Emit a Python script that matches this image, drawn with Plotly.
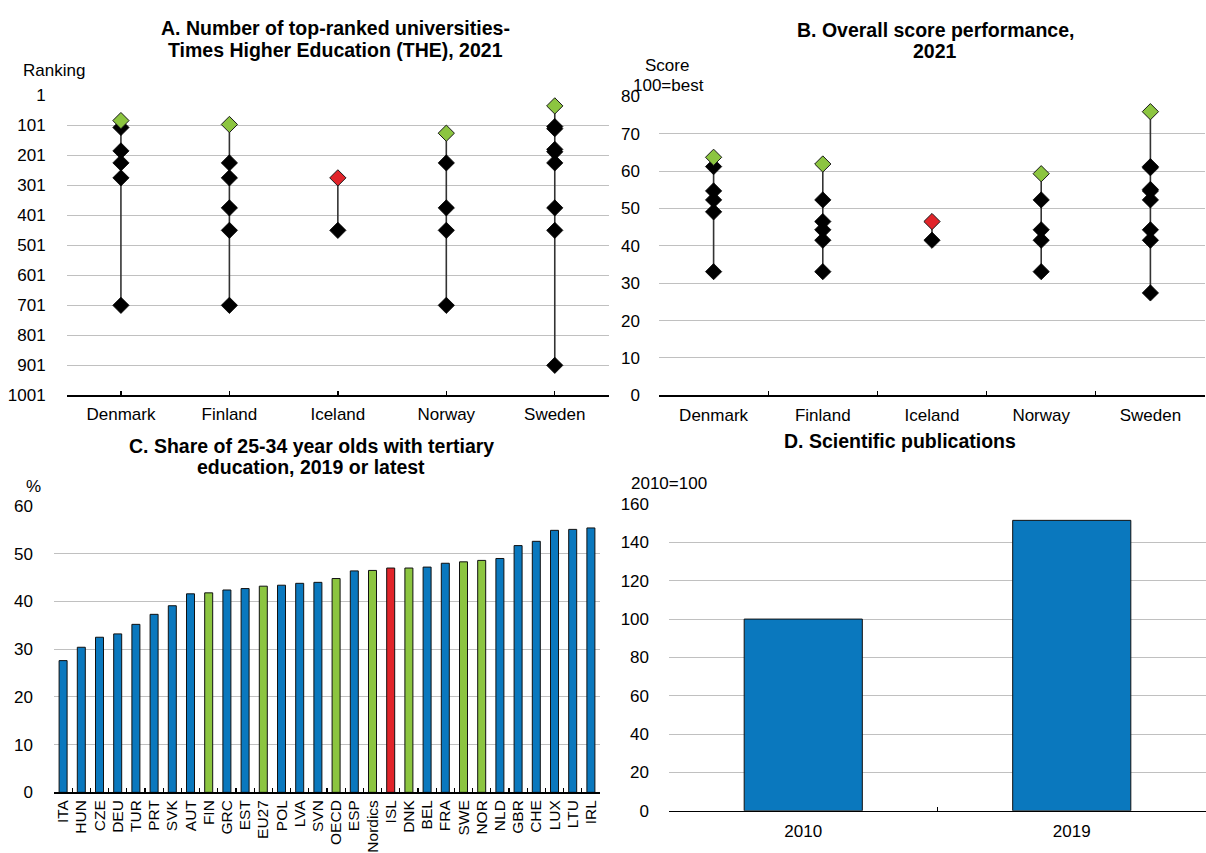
import plotly.graph_objects as go

# ---------------- data ----------------
countries = ["Denmark", "Finland", "Iceland", "Norway", "Sweden"]

# Panel A: THE 2021 rankings (best-ranked university per country, then the others)
rank_best = [85, 98, 276, 127, 36]
rank_denmark = [108, 186, 226, 276, 701]
rank_finland = [226, 276, 376, 451, 701]
rank_iceland = [451]
rank_norway = [226, 376, 451, 701]
rank_sweden = [105, 112, 181, 189, 226, 376, 451, 901]
rank_ticks = [1, 101, 201, 301, 401, 501, 601, 701, 801, 901, 1001]

# Panel B: overall score (100 = best)
score_best = [63.7, 61.9, 46.5, 59.3, 75.9]
score_denmark = [61.2, 54.7, 52.3, 49.1, 33.1]
score_finland = [52.3, 46.5, 44.3, 41.5, 33.1]
score_iceland = [41.5]
score_norway = [52.3, 44.3, 41.5, 33.1]
score_sweden = [61.2, 60.9, 55.1, 54.7, 52.3, 44.3, 41.5, 27.4]

# Panel C: share of 25-34 year olds with tertiary education
c_labels = ["ITA", "HUN", "CZE", "DEU", "TUR", "PRT", "SVK", "AUT", "FIN", "GRC",
            "EST", "EU27", "POL", "LVA", "SVN", "OECD", "ESP", "Nordics", "ISL", "DNK",
            "BEL", "FRA", "SWE", "NOR", "NLD", "GBR", "CHE", "LUX", "LTU", "IRL"]
c_values = [27.6, 30.4, 32.5, 33.2, 35.2, 37.3, 39.1, 41.6, 41.8, 42.4,
            42.7, 43.2, 43.4, 43.8, 44.0, 44.8, 46.4, 46.5, 47.0, 47.0,
            47.2, 48.0, 48.3, 48.6, 49.0, 51.7, 52.6, 54.9, 55.1, 55.4]
c_green = ["FIN", "EU27", "OECD", "Nordics", "DNK", "SWE", "NOR"]
c_red = ["ISL"]

# Panel D: scientific publications (2010=100)
d_years = ["2010", "2019"]
d_values = [100, 151.5]

# ---------------- style ----------------
W, H = 1206, 853
BLUE = "#0A78BE"
GREEN = "#8CC540"
RED = "#E1242A"
GRID = "#C0C0C0"
FONT = "Liberation Sans, Arial, sans-serif"
TICK = 17
TITLE = 19.5


def px_x(x):
    return x / W


def px_y(y):
    return 1 - y / H


fig = go.Figure()


def dot_panel(best, others, xa, ya):
    lx, ly, ox, oy = [], [], [], []
    for c, b, oth in zip(countries, best, others):
        vals = [b] + list(oth)
        lx += [c, c, None]
        ly += [min(vals), max(vals), None]
        ox += [c] * len(oth)
        oy += list(oth)
    fig.add_trace(go.Scatter(x=lx, y=ly, mode="lines", xaxis=xa, yaxis=ya,
                             line=dict(color="#333333", width=1.6),
                             showlegend=False, hoverinfo="skip"))
    fig.add_trace(go.Scatter(x=ox, y=oy, mode="markers", xaxis=xa, yaxis=ya,
                             marker=dict(symbol="diamond", size=12.5, color="black",
                                         line=dict(color="black", width=0.8)),
                             showlegend=False))
    cols = [RED if c == "Iceland" else GREEN for c in countries]
    fig.add_trace(go.Scatter(x=countries, y=best, mode="markers", xaxis=xa, yaxis=ya,
                             marker=dict(symbol="diamond", size=12.5, color=cols,
                                         line=dict(color="#1a1a1a", width=1)),
                             showlegend=False))


dot_panel(rank_best, [rank_denmark, rank_finland, rank_iceland, rank_norway, rank_sweden], "x", "y")
dot_panel(score_best, [score_denmark, score_finland, score_iceland, score_norway, score_sweden], "x2", "y2")

c_colors = [RED if l in c_red else GREEN if l in c_green else BLUE for l in c_labels]
fig.add_trace(go.Bar(x=c_labels, y=c_values, xaxis="x3", yaxis="y3",
                     marker=dict(color=c_colors, line=dict(color="#111111", width=1)),
                     showlegend=False))
fig.add_trace(go.Bar(x=d_years, y=d_values, xaxis="x4", yaxis="y4",
                     marker=dict(color=BLUE, line=dict(color="#111111", width=1)),
                     showlegend=False))

tf = dict(family=FONT, size=TICK, color="black")


def xax(domain, anchor, **kw):
    d = dict(domain=domain, anchor=anchor, type="category", showline=True,
             linecolor="black", linewidth=1.6, ticks="inside", ticklen=4,
             tickcolor="black", tickwidth=1.3, tickfont=tf, showgrid=False,
             zeroline=False, fixedrange=True)
    d.update(kw)
    return d


def yax(domain, anchor, **kw):
    d = dict(domain=domain, anchor=anchor, showline=False, ticks="",
             showgrid=True, gridcolor=GRID, gridwidth=1, zeroline=False,
             tickfont=tf, ticklabelstandoff=17, fixedrange=True)
    d.update(kw)
    return d


fig.update_layout(
    width=W, height=H,
    margin=dict(l=0, r=0, t=0, b=0),
    paper_bgcolor="white", plot_bgcolor="white",
    font=dict(family=FONT, size=TICK, color="black"),
    bargap=0.56,
    xaxis=xax([px_x(66.7), px_x(609)], "y", range=[-0.5, 4.5], ticklabelstandoff=3),
    yaxis=yax([px_y(398), px_y(89)], "x", range=[1001, 1],
              tickmode="array", tickvals=rank_ticks, ticklabelstandoff=20),
    xaxis2=xax([px_x(659), px_x(1205)], "y2", range=[-0.5, 4.5], tickson="boundaries",
               ticklabelstandoff=4),
    yaxis2=yax([px_y(398), px_y(90)], "x2", range=[0, 80], dtick=10, ticklabelstandoff=18),
    xaxis3=xax([px_x(54), px_x(600)], "y3", tickson="boundaries", tickangle=-90,
               tickmode="array", tickvals=c_labels, ticktext=c_labels,
               tickfont=dict(family=FONT, size=15.5, color="black"), ticklabelstandoff=0),
    yaxis3=yax([px_y(807), px_y(512)], "x3", range=[0, 60], dtick=10, ticklabelstandoff=20),
    xaxis4=xax([px_x(669), px_x(1206)], "y4", tickson="boundaries", ticklabelstandoff=4),
    yaxis4=yax([px_y(826), px_y(510)], "x4", range=[0, 160], dtick=20, ticklabelstandoff=19),
)

ann = []


def text(s, x, y, size=TICK, bold=False):
    ann.append(dict(text=("<b>%s</b>" % s) if bold else s, x=px_x(x), y=px_y(y),
                    xref="paper", yref="paper", xanchor="center", yanchor="middle",
                    showarrow=False, font=dict(family=FONT, size=size, color="black")))


text("A. Number of top-ranked universities-", 335, 20, TITLE, True)
text("Times Higher Education (THE), 2021", 335, 42, TITLE, True)
text("B. Overall score performance,", 935, 22, TITLE, True)
text("2021", 935, 43, TITLE, True)
text("C. Share of 25-34 year olds with tertiary", 311, 450, TITLE, True)
text("education, 2019 or latest", 311, 472, TITLE, True)
text("D. Scientific publications", 900, 445, TITLE, True)
text("Ranking", 54, 63)
text("Score", 667, 58)
text("100=best", 668, 79)
text("%", 33, 492)
text("2010=100", 669, 489)

fig.update_layout(annotations=ann)
fig.write_html("out.html", config={"displayModeBar": False, "staticPlot": True},
               post_script="document.body.style.margin='0';document.body.style.overflow='hidden';")
